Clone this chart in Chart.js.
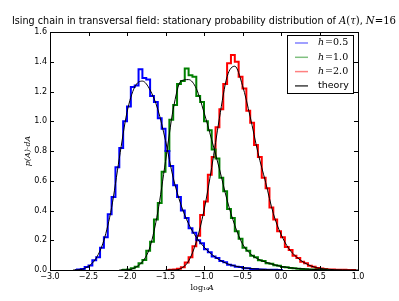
<!DOCTYPE html>
<html>
<head>
<meta charset="utf-8">
<script src="https://cdn.jsdelivr.net/npm/chart.js@4.4.1/dist/chart.umd.min.js"></script>
<style>
  html, body { margin: 0; padding: 0; background: #fff; }
  #wrap { width: 399px; height: 301px; }
</style>
</head>
<body>
<div id="wrap"><canvas id="c"></canvas></div>
<script>
// histogram bins are 0.05 wide in log10 A; start = centre of first bin
const binWidth = 0.05;
const blueStart = -2.675;
const blueHist = [0, 0.003, 0.006, 0.02, 0.03, 0.066, 0.085, 0.15, 0.22, 0.375, 0.49, 0.69, 0.82, 1.0, 1.10,
  1.23, 1.24, 1.35, 1.29, 1.28, 1.17, 1.13, 1.02, 0.95, 0.80, 0.70, 0.57, 0.49, 0.40, 0.35, 0.28, 0.25, 0.20,
  0.18, 0.14, 0.12, 0.09, 0.08, 0.06, 0.052, 0.036, 0.03, 0.022, 0.02, 0.012, 0.012, 0.007, 0.006, 0.004,
  0.003, 0.002, 0.001, 0.001, 0, 0];
const greenStart = -2.075;
const greenHist = [0, 0.002, 0.004, 0.012, 0.022, 0.045, 0.068, 0.13, 0.19, 0.34, 0.45, 0.66, 0.80, 1.01, 1.11,
  1.25, 1.27, 1.355, 1.31, 1.30, 1.17, 1.13, 1.00, 0.94, 0.81, 0.75, 0.62, 0.53, 0.41, 0.35, 0.26, 0.21, 0.15,
  0.13, 0.095, 0.085, 0.065, 0.06, 0.045, 0.042, 0.032, 0.028, 0.02, 0.019, 0.013, 0.012, 0.008, 0.007,
  0.005, 0.004, 0.003, 0.002, 0.001, 0.001, 0];
const redStart = -1.475;
const redHist = [0, 0.001, 0.003, 0.008, 0.018, 0.05, 0.085, 0.16, 0.23, 0.37, 0.46, 0.64, 0.76, 0.96, 1.08,
  1.25, 1.39, 1.445, 1.40, 1.30, 1.22, 1.07, 0.99, 0.84, 0.76, 0.62, 0.55, 0.42, 0.34, 0.26, 0.22, 0.155,
  0.135, 0.095, 0.08, 0.055, 0.045, 0.028, 0.022, 0.013, 0.01, 0.006, 0.004, 0.003, 0.002, 0.001, 0.001,
  0, 0, 0];

// theory curves sampled every 0.1
const theoryStep = 0.1;
const blueTheoryStart = -2.7;
const blueTheory = [0, 0.003, 0.025, 0.08, 0.20, 0.42, 0.75, 1.06, 1.23, 1.27, 1.21, 1.08, 0.87, 0.62, 0.44,
  0.31, 0.22, 0.155, 0.105, 0.068, 0.043, 0.027, 0.016, 0.010, 0.006, 0.003, 0.001, 0];
const greenTheoryStart = -2.1;
const greenTheory = [0, 0, 0.015, 0.055, 0.157, 0.39, 0.73, 1.08, 1.27, 1.28, 1.22, 1.06, 0.875, 0.68, 0.47,
  0.30, 0.175, 0.11, 0.074, 0.053, 0.037, 0.024, 0.016, 0.010, 0.007, 0.004, 0.002, 0.001];
const redTheoryStart = -1.5;
const redTheory = [0, 0, 0.01, 0.06, 0.19, 0.40, 0.69, 1.02, 1.30, 1.37, 1.24, 1.03, 0.79, 0.59, 0.38, 0.24,
  0.145, 0.088, 0.05, 0.025, 0.011, 0.005, 0.002, 0.001, 0, 0];

const seriesLabels = ["h=0.5", "h=1.0", "h=2.0", "theory"];
const xTicks = [-3.0, -2.5, -2.0, -1.5, -1.0, -0.5, 0.0, 0.5, 1.0];
const yTicks = [0.0, 0.2, 0.4, 0.6, 0.8, 1.0, 1.2, 1.4, 1.6];

const pts = (start, step, vals) => vals.map((v, i) => ({ x: start + i * step, y: v }));
const fmt = v => (v < 0 ? "\u2212" : "") + Math.abs(v).toFixed(1);

const hist = (label, color, start, vals) => ({
  label, data: pts(start, binWidth, vals), borderColor: color, borderWidth: 2,
  stepped: "middle", pointRadius: 0, fill: false, order: 2
});
const theory = (label, start, vals) => ({
  label, data: pts(start, theoryStep, vals), borderColor: "#000", borderWidth: 1,
  cubicInterpolationMode: "monotone", pointRadius: 0, fill: false, order: 1
});

const frame = {
  id: "frame",
  afterDatasetsDraw(chart) {
    const { ctx, chartArea: a, scales } = chart;
    ctx.save();
    ctx.strokeStyle = "#000";
    ctx.lineWidth = 1;
    ctx.beginPath();
    xTicks.forEach(t => {
      const x = Math.round(scales.x.getPixelForValue(t)) + 0.5;
      ctx.moveTo(x, a.bottom); ctx.lineTo(x, a.bottom - 4);
      ctx.moveTo(x, a.top); ctx.lineTo(x, a.top + 4);
    });
    yTicks.forEach(t => {
      const y = Math.round(scales.y.getPixelForValue(t)) + 0.5;
      ctx.moveTo(a.left, y); ctx.lineTo(a.left + 4, y);
      ctx.moveTo(a.right, y); ctx.lineTo(a.right - 4, y);
    });
    ctx.stroke();
    ctx.strokeRect(Math.round(a.left) + 0.5, Math.round(a.top) + 0.5,
      Math.round(a.right - a.left), Math.round(a.bottom - a.top));

    // title, mixed text and math, squeezed to the reference width
    const parts = [
      ["Ising chain in transversal field: stationary probability distribution of ", "10px 'DejaVu Sans'"],
      ["A", "italic 10.5px 'DejaVu Serif'"], ["(", "10.5px 'DejaVu Serif'"], ["\u03c4", "italic 10.5px 'DejaVu Serif'"],
      [")", "10.5px 'DejaVu Serif'"], [", ", "10px 'DejaVu Sans'"], ["N", "italic 10.5px 'DejaVu Serif'"],
      ["=16", "10.5px 'DejaVu Serif'"]
    ];
    let w = 0;
    parts.forEach(p => { ctx.font = p[1]; w += ctx.measureText(p[0]).width; });
    const sx = 384 / w;
    ctx.save();
    ctx.translate(12, 24);
    ctx.scale(sx, 1);
    let x = 0;
    ctx.fillStyle = "#000";
    ctx.textBaseline = "alphabetic";
    ctx.textAlign = "left";
    parts.forEach(p => { ctx.font = p[1]; ctx.fillText(p[0], x, 0); x += ctx.measureText(p[0]).width; });
    ctx.restore();

    // axis titles
    ctx.fillStyle = "#000";
    ctx.textAlign = "center";
    ctx.font = "8px 'DejaVu Serif'";
    ctx.fillText("log\u2081\u2080", 200, 290);
    ctx.font = "italic 8px 'DejaVu Serif'";
    ctx.fillText("A", 211, 290);
    ctx.save();
    ctx.translate(30, 151);
    ctx.rotate(-Math.PI / 2);
    ctx.font = "italic 8px 'DejaVu Serif'";
    ctx.fillText("p(A)\u00b7dA", 0, 0);
    ctx.restore();

    // legend
    const lx = 287, ly = 35, lw = 66, lh = 58;
    ctx.fillStyle = "#fff";
    ctx.fillRect(lx, ly, lw, lh);
    ctx.strokeRect(lx + 0.5, ly + 0.5, lw, lh);
    const legendColors = ["#8080ff", "#80c080", "#ff8080", "#404040"];
    seriesLabels.forEach((lab, i) => {
      const yy = ly + 8 + i * 14.3;
      ctx.strokeStyle = legendColors[i];
      ctx.lineWidth = 1.5;
      ctx.beginPath(); ctx.moveTo(lx + 8, yy); ctx.lineTo(lx + 21, yy); ctx.stroke();
      ctx.fillStyle = "#000";
      ctx.textAlign = "left";
      ctx.textBaseline = "middle";
      if (lab === "theory") {
        ctx.font = "9.5px 'DejaVu Sans'";
        ctx.fillText(lab, lx + 31, yy);
      } else {
        ctx.font = "italic 9.5px 'DejaVu Serif'";
        ctx.fillText("h", lx + 31, yy);
        const hw = ctx.measureText("h").width;
        ctx.font = "9.5px 'DejaVu Serif'";
        ctx.fillText(lab.slice(1), lx + 31 + hw + 1, yy);
      }
    });
    ctx.restore();
  }
};

new Chart(document.getElementById("c").getContext("2d"), {
  type: "line",
  data: {
    datasets: [
      hist(seriesLabels[0], "#0000ff", blueStart, blueHist),
      hist(seriesLabels[1], "#008000", greenStart, greenHist),
      hist(seriesLabels[2], "#ff0000", redStart, redHist),
      theory(seriesLabels[3], blueTheoryStart, blueTheory),
      theory("theory h=1.0", greenTheoryStart, greenTheory),
      theory("theory h=2.0", redTheoryStart, redTheory)
    ]
  },
  options: {
    responsive: true,
    maintainAspectRatio: false,
    animation: false,
    layout: { padding: { left: 0, right: 41, top: 32, bottom: 0 } },
    plugins: { legend: { display: false }, title: { display: false }, tooltip: { enabled: false } },
    scales: {
      x: {
        type: "linear", min: -3, max: 1,
        afterFit: s => { s.height = 31; },
        afterBuildTicks: s => { s.ticks = xTicks.map(v => ({ value: v })); },
        ticks: { callback: fmt, font: { family: "DejaVu Sans", size: 8 }, color: "#000", padding: 2, maxRotation: 0, autoSkip: false },
        grid: { display: false, drawTicks: false }, border: { display: false }
      },
      y: {
        type: "linear", min: 0, max: 1.6,
        afterFit: s => { s.width = 50; },
        afterBuildTicks: s => { s.ticks = yTicks.map(v => ({ value: v })); },
        ticks: { callback: v => v.toFixed(1), font: { family: "DejaVu Sans", size: 8 }, color: "#000", padding: 3 },
        grid: { display: false, drawTicks: false }, border: { display: false }
      }
    }
  },
  plugins: [frame]
});
</script>
</body>
</html>
